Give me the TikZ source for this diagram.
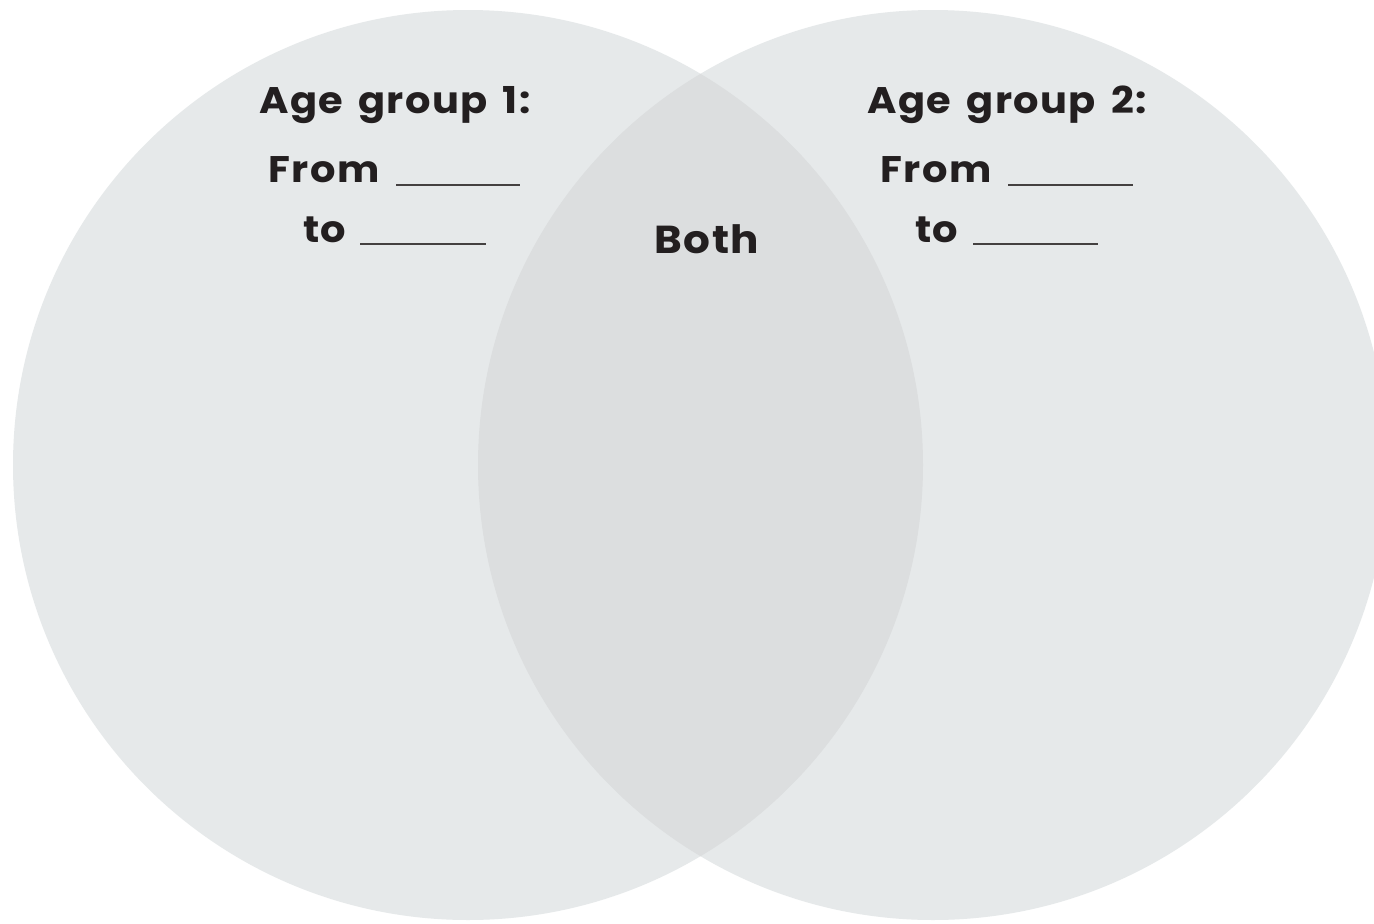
\documentclass[tikz,border=0pt]{standalone}
\usepackage{fontspec}
\setmainfont{Poppins}[LetterSpace=4, WordSpace=1.5, FakeStretch=1.08]
\definecolor{circfill}{HTML}{E6E9EA}
\definecolor{lensfill}{HTML}{DCDEDF}
\definecolor{txt}{HTML}{231F20}
\tikzset{
  lbl/.style={font=\bfseries\fontsize{37}{39}\selectfont, text=txt, inner sep=0pt},
  bothlbl/.style={font=\bfseries\fontsize{39}{41}\selectfont, text=txt, inner sep=0pt},
  blank/.style={draw=txt!85, line width=2.2pt},
  vcirc/.style={fill=circfill, draw=none}
}
\begin{document}
\begin{tikzpicture}[x=1pt,y=-1pt]
\useasboundingbox (0,0) rectangle (1374,924);
\fill[white] (0,0) rectangle (1374,924);
% circles
\fill[vcirc] (468,465) circle (455);
\fill[vcirc] (933,465) circle (455);
\begin{scope}
  \clip (468,465) circle (455);
  \fill[lensfill] (933,465) circle (455);
\end{scope}
% left group
\node[lbl, anchor=base] (ag1) at (395,113) {Age group 1:};
\node[lbl, anchor=base west] (from1) at (268,182) {From};
\node[lbl, anchor=base west] (to1) at (303,242) {to};
\coordinate (f1a) at (396,185); \coordinate (f1b) at (520,185);
\coordinate (t1a) at (360,244); \coordinate (t1b) at (486,244);
\draw[blank] (f1a) -- (f1b);
\draw[blank] (t1a) -- (t1b);
% right group
\node[lbl, anchor=base] (ag2) at (1007,113) {Age group 2:};
\node[lbl, anchor=base west] (from2) at (880,182) {From};
\node[lbl, anchor=base west] (to2) at (915,242) {to};
\coordinate (f2a) at (1008,185); \coordinate (f2b) at (1133,185);
\coordinate (t2a) at (973,244); \coordinate (t2b) at (1098,244);
\draw[blank] (f2a) -- (f2b);
\draw[blank] (t2a) -- (t2b);
% centre
\node[bothlbl, anchor=base] (both) at (707,253) {Both};
\end{tikzpicture}
\end{document}
